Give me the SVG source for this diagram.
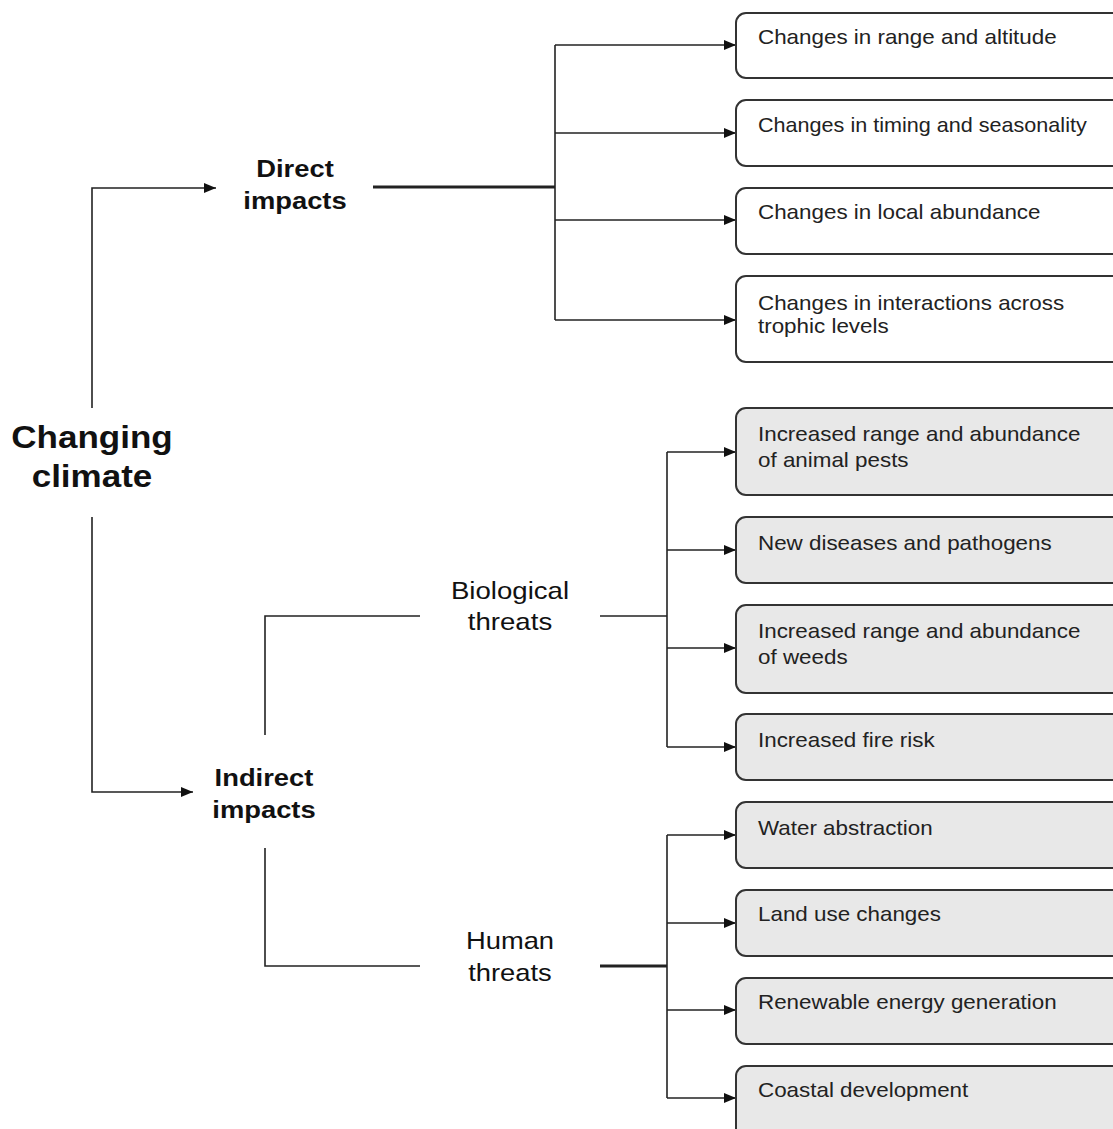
<svg xmlns="http://www.w3.org/2000/svg" width="1113" height="1129" viewBox="0 0 1113 1129">
<style>
.box{fill:#fff;stroke:#333;stroke-width:2}
.g{fill:#e8e8e8}
.bt{font-family:"Liberation Sans",Arial,sans-serif;font-size:20px;fill:#222}
.lbl{font-family:"Liberation Sans",Arial,sans-serif;font-size:24px;fill:#111;text-anchor:middle}
.b{font-weight:bold}
.ln{fill:none;stroke:#222;stroke-width:1.6}
.thick{stroke-width:3}
</style>
<defs>
<marker id="ah" viewBox="0 0 12 10" refX="12" refY="5" markerWidth="12" markerHeight="10" markerUnits="userSpaceOnUse" orient="auto">
<path d="M0,0 L12,5 L0,10 z" fill="#111"/>
</marker>
</defs>
<g id="connectors">
<path class="ln" d="M92,408 V188 H216" marker-end="url(#ah)"/>
<path class="ln" d="M92,517 V792 H193" marker-end="url(#ah)"/>
<path class="ln thick" d="M373,187 H555"/>
<path class="ln" d="M555,45 V320"/>
<path class="ln" d="M555,45 H736" marker-end="url(#ah)"/>
<path class="ln" d="M555,133 H736" marker-end="url(#ah)"/>
<path class="ln" d="M555,220 H736" marker-end="url(#ah)"/>
<path class="ln" d="M555,320 H736" marker-end="url(#ah)"/>
<path class="ln" d="M265,735 V616 H420"/>
<path class="ln" d="M265,848 V966 H420"/>
<path class="ln" d="M600,616 H667"/>
<path class="ln" d="M667,452 V747"/>
<path class="ln" d="M667,452 H736" marker-end="url(#ah)"/>
<path class="ln" d="M667,550 H736" marker-end="url(#ah)"/>
<path class="ln" d="M667,648 H736" marker-end="url(#ah)"/>
<path class="ln" d="M667,747 H736" marker-end="url(#ah)"/>
<path class="ln thick" d="M600,966 H667"/>
<path class="ln" d="M667,835 V1098"/>
<path class="ln" d="M667,835 H736" marker-end="url(#ah)"/>
<path class="ln" d="M667,923 H736" marker-end="url(#ah)"/>
<path class="ln" d="M667,1010 H736" marker-end="url(#ah)"/>
<path class="ln" d="M667,1098 H736" marker-end="url(#ah)"/>
</g>
<g id="changing-climate" transform="translate(92,0) scale(1.13,1)">
<text class="lbl b" x="0" y="448" style="font-size:31px">Changing</text>
<text class="lbl b" x="0" y="487" style="font-size:31px">climate</text>
</g>
<g id="direct-impacts" transform="translate(295,0) scale(1.14,1)">
<text class="lbl b" x="0" y="177">Direct</text>
<text class="lbl b" x="0" y="209">impacts</text>
</g>
<g id="indirect-impacts" transform="translate(264,0) scale(1.14,1)">
<text class="lbl b" x="0" y="786">Indirect</text>
<text class="lbl b" x="0" y="818">impacts</text>
</g>
<g id="biological-threats" transform="translate(510,0) scale(1.15,1)">
<text class="lbl" x="0" y="599">Biological</text>
<text class="lbl" x="0" y="630">threats</text>
</g>
<g id="human-threats" transform="translate(510,0) scale(1.14,1)">
<text class="lbl" x="0" y="949">Human</text>
<text class="lbl" x="0" y="981">threats</text>
</g>
<g id="d1"><rect class="box" x="736" y="13" width="390" height="65" rx="10"/><text class="bt" transform="translate(758,44) scale(1.12,1)">Changes in range and altitude</text></g>
<g id="d2"><rect class="box" x="736" y="100" width="390" height="66" rx="10"/><text class="bt" transform="translate(758,132) scale(1.08,1)">Changes in timing and seasonality</text></g>
<g id="d3"><rect class="box" x="736" y="188" width="390" height="66" rx="10"/><text class="bt" transform="translate(758,219) scale(1.12,1)">Changes in local abundance</text></g>
<g id="d4"><rect class="box" x="736" y="276" width="390" height="86" rx="10"/><text class="bt" transform="translate(758,310) scale(1.12,1)">Changes in interactions across</text><text class="bt" transform="translate(758,333) scale(1.12,1)">trophic levels</text></g>
<g id="b1"><rect class="box g" x="736" y="408" width="390" height="87" rx="10"/><text class="bt" transform="translate(758,441) scale(1.12,1)">Increased range and abundance</text><text class="bt" transform="translate(758,467) scale(1.12,1)">of animal pests</text></g>
<g id="b2"><rect class="box g" x="736" y="517" width="390" height="66" rx="10"/><text class="bt" transform="translate(758,550) scale(1.12,1)">New diseases and pathogens</text></g>
<g id="b3"><rect class="box g" x="736" y="605" width="390" height="88" rx="10"/><text class="bt" transform="translate(758,638) scale(1.12,1)">Increased range and abundance</text><text class="bt" transform="translate(758,664) scale(1.12,1)">of weeds</text></g>
<g id="b4"><rect class="box g" x="736" y="714" width="390" height="66" rx="10"/><text class="bt" transform="translate(758,747) scale(1.12,1)">Increased fire risk</text></g>
<g id="h1"><rect class="box g" x="736" y="802" width="390" height="66" rx="10"/><text class="bt" transform="translate(758,835) scale(1.12,1)">Water abstraction</text></g>
<g id="h2"><rect class="box g" x="736" y="890" width="390" height="66" rx="10"/><text class="bt" transform="translate(758,921) scale(1.12,1)">Land use changes</text></g>
<g id="h3"><rect class="box g" x="736" y="978" width="390" height="66" rx="10"/><text class="bt" transform="translate(758,1009) scale(1.12,1)">Renewable energy generation</text></g>
<g id="h4"><rect class="box g" x="736" y="1066" width="390" height="80" rx="10"/><text class="bt" transform="translate(758,1097) scale(1.12,1)">Coastal development</text></g>
</svg>
